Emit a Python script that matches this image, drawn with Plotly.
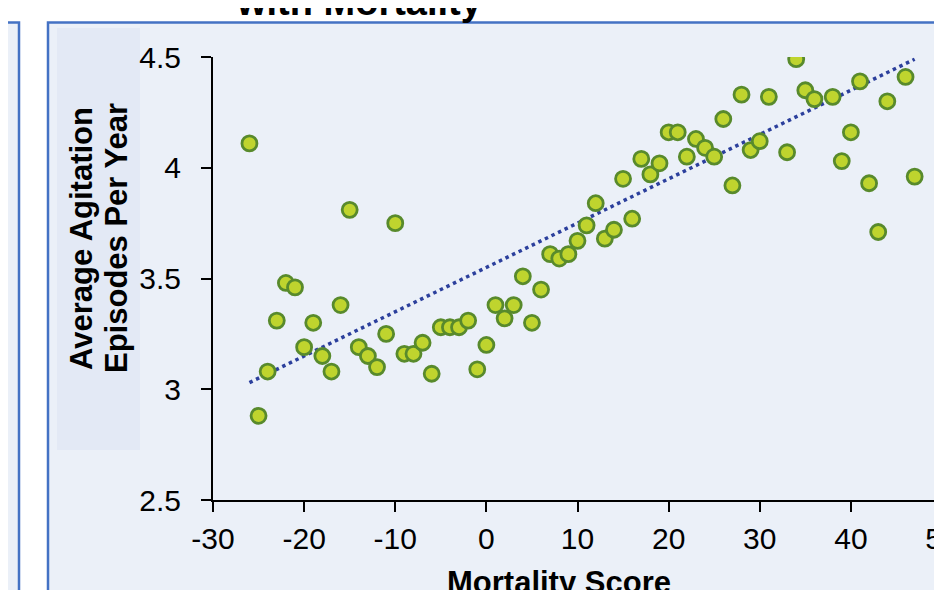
import plotly.graph_objects as go

# ---- data ----
mortality_score = [-26, -25, -24, -23, -22, -21, -20, -19, -18, -17, -16, -15, -14, -13, -12, -11,
                   -10, -9, -8, -7, -6, -5, -4, -3, -2, -1, 0, 1, 2, 3, 4, 5, 6, 7, 8, 9, 10,
                   11, 12, 13, 14, 15, 16, 17, 18, 19, 20, 21, 22, 23, 24, 25, 26, 27, 28, 29,
                   30, 31, 33, 34, 35, 36, 38, 39, 40, 41, 42, 43, 44, 46, 47]
agitation = [4.11, 2.88, 3.08, 3.31, 3.48, 3.46, 3.19, 3.30, 3.15, 3.08, 3.38, 3.81, 3.19, 3.15,
             3.10, 3.25, 3.75, 3.16, 3.16, 3.21, 3.07, 3.28, 3.28, 3.28, 3.31, 3.09, 3.20, 3.38,
             3.32, 3.38, 3.51, 3.30, 3.45, 3.61, 3.59, 3.61, 3.67, 3.74, 3.84, 3.68, 3.72, 3.95,
             3.77, 4.04, 3.97, 4.02, 4.16, 4.16, 4.05, 4.13, 4.09, 4.05, 4.22, 3.92, 4.33, 4.08,
             4.12, 4.32, 4.07, 4.49, 4.35, 4.31, 4.32, 4.03, 4.16, 4.39, 3.93, 3.71, 4.30, 4.41,
             3.96]
# linear trendline as drawn in the reference (end points)
trend_x = [-26, 47]
trend_y = [3.03, 4.49]

x_ticks = [-30, -20, -10, 0, 10, 20, 30, 40, 50]
y_ticks = [2.5, 3, 3.5, 4, 4.5]
y_tick_text = ["2.5", "3", "3.5", "4", "4.5"]

title_text = "<b>with Mortality</b>"
x_title = "<b>Mortality Score</b>"
y_title_1 = "<b>Average Agitation</b>"
y_title_2 = "<b>Episodes Per Year</b>"

# ---- geometry (screen pixels -> paper); page body has an 8px margin ----
OFF = 8
W, H = 942 - OFF, 590 - OFF
L, R, T, B = 213 - OFF, 0, 57 - OFF, 90
PW = W - L - R
PH = H - T - B


def px(x):
    return (x - OFF - L) / PW


def py(y):
    return (H - B - (y - OFF)) / PH


FONT = "Liberation Sans, Arial, sans-serif"
PANEL = "#EBF0F8"
BORDER = "#4472C4"

fig = go.Figure()
fig.add_trace(go.Scatter(
    x=trend_x, y=trend_y, mode="lines",
    line=dict(color="#2B3F9C", width=3.5, dash="3.5px,3.8px"),
    hoverinfo="skip", showlegend=False))
fig.add_trace(go.Scatter(
    x=mortality_score, y=agitation, mode="markers",
    marker=dict(size=15, color="#BFD42E", line=dict(color="#588A2C", width=2.8)),
    showlegend=False))

shapes = [
    dict(type="rect", xref="paper", yref="paper", x0=px(48), x1=px(980), y0=py(620), y1=py(22.5),
         fillcolor=PANEL, line=dict(color=BORDER, width=2.5), layer="below"),
    dict(type="rect", xref="paper", yref="paper", x0=px(-40), x1=px(19), y0=py(620), y1=py(22.5),
         fillcolor=PANEL, line=dict(color=BORDER, width=2.5), layer="below"),
    dict(type="rect", xref="paper", yref="paper", x0=px(57), x1=px(140), y0=py(450), y1=py(28),
         fillcolor="#E3E9F5", line=dict(width=0), layer="below"),
]

annotations = [
    dict(text=title_text, xref="paper", yref="paper", x=px(359), y=py(25), xanchor="center",
         yanchor="bottom", showarrow=False, font=dict(family=FONT, size=38, color="black")),
    dict(text=x_title, xref="paper", yref="paper", x=px(559), y=py(582), xanchor="center",
         yanchor="middle", showarrow=False, font=dict(family=FONT, size=31, color="black")),
    dict(text=y_title_1, xref="paper", yref="paper", x=px(81), y=py(239), xanchor="center",
         yanchor="middle", textangle=-90, showarrow=False,
         font=dict(family=FONT, size=31, color="black")),
    dict(text=y_title_2, xref="paper", yref="paper", x=px(116), y=py(238), xanchor="center",
         yanchor="middle", textangle=-90, showarrow=False,
         font=dict(family=FONT, size=31, color="black")),
]

fig.update_layout(
    template="none",
    width=W, height=H,
    margin=dict(l=L, r=R, t=T, b=B, pad=0),
    paper_bgcolor="white",
    plot_bgcolor="rgba(0,0,0,0)",
    shapes=shapes,
    annotations=annotations,
    showlegend=False,
    xaxis=dict(range=[-30, 50], tickvals=x_ticks, ticktext=[str(v) for v in x_ticks],
               showgrid=False, zeroline=False, showline=True, linecolor="black", linewidth=2,
               ticks="outside", ticklen=10, tickwidth=2, tickcolor="black",
               tickfont=dict(family=FONT, size=30, color="black"), automargin=False,
               ticklabelstandoff=1, ticklabeloverflow="allow"),
    yaxis=dict(range=[2.5, 4.5], tickvals=y_ticks, ticktext=y_tick_text,
               showgrid=False, zeroline=False, showline=True, linecolor="black", linewidth=2,
               ticks="outside", ticklen=10, tickwidth=2, tickcolor="black",
               tickfont=dict(family=FONT, size=30, color="black"), automargin=False,
               ticklabelstandoff=14),
)

fig.write_html("out.html")
